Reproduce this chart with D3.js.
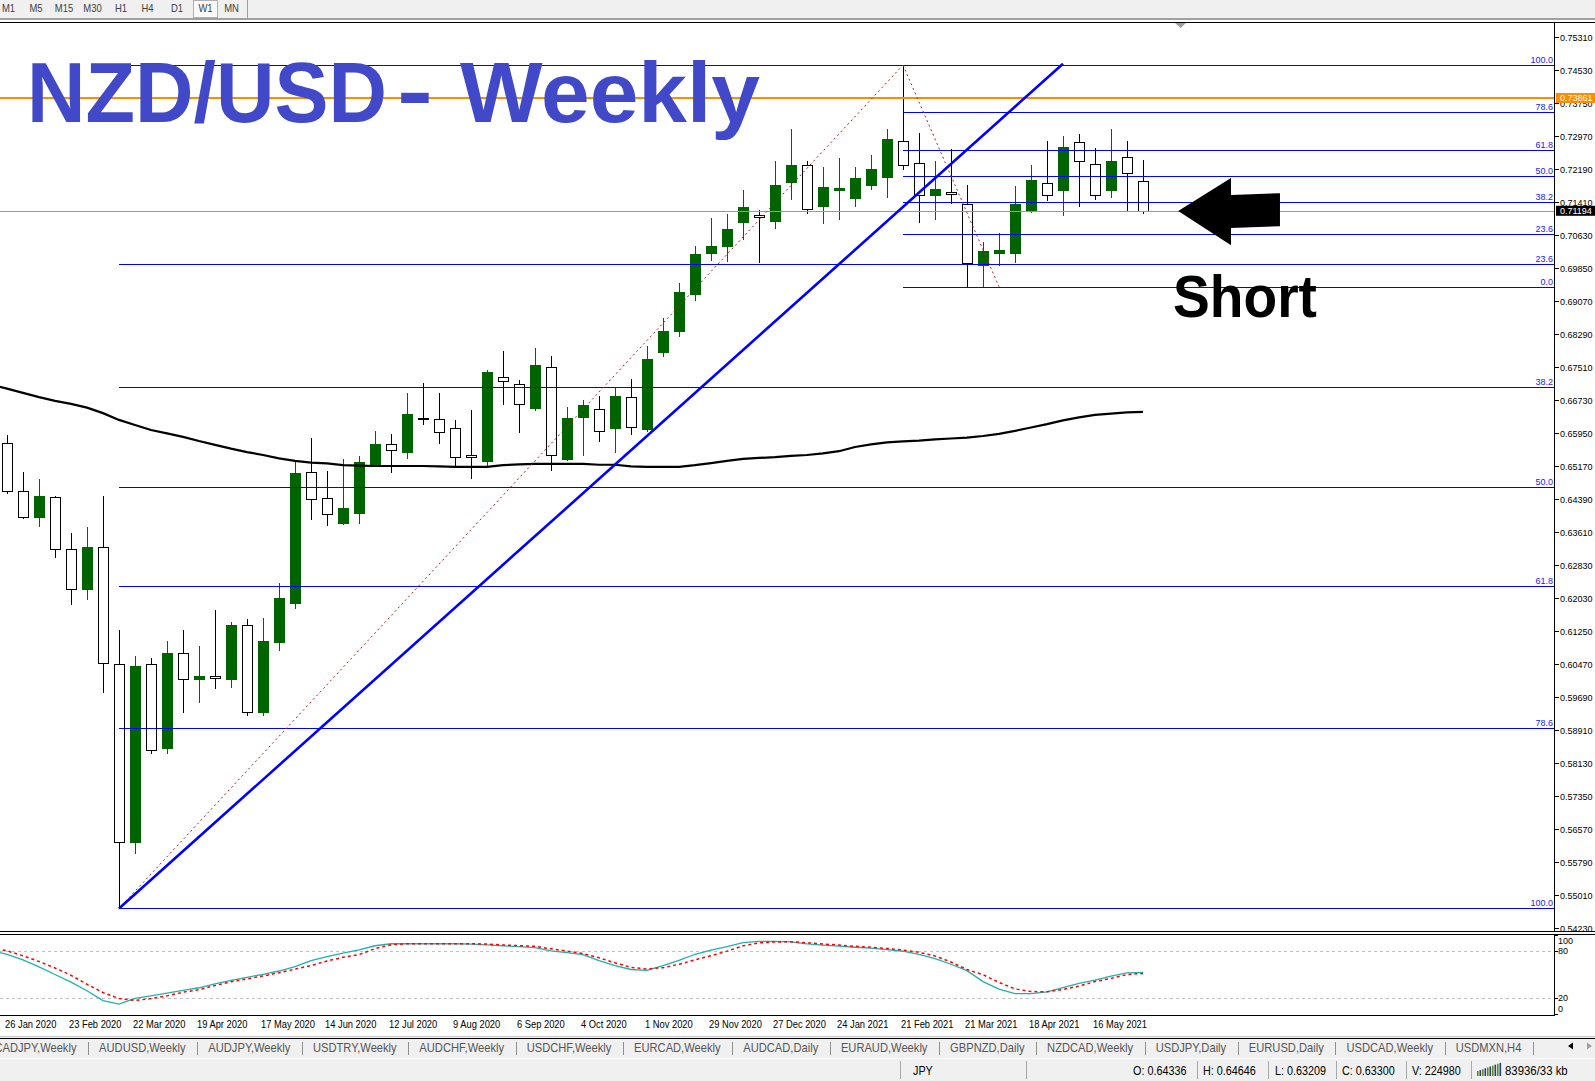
<!DOCTYPE html>
<html>
<head>
<meta charset="utf-8">
<script src="https://cdn.jsdelivr.net/npm/d3@7/dist/d3.min.js"></script>
<style>
html,body{margin:0;padding:0;background:#fff;overflow:hidden}
svg{display:block}
text{font-family:"Liberation Sans",Arial,sans-serif}
</style>
</head>
<body>
<svg id="chart" width="1595" height="1081"></svg>
<script>
// ================= DATA =================
// weekly bars, bar 0 = week of 26 Jan 2020 ... bar 71 = week of 6 Jun 2021
const open  = [0.6570,0.6457,0.6395,0.6442,0.6319,0.6226,0.6324,0.6047,0.5627,0.6047,0.5850,0.6073,0.6012,0.6020,0.6013,0.6139,0.5934,0.6101,0.6193,0.6502,0.6440,0.6382,0.6406,0.6518,0.6567,0.6550,0.6629,0.6626,0.6605,0.6541,0.6529,0.6726,0.6709,0.6652,0.6749,0.6533,0.6633,0.6650,0.6607,0.6678,0.6604,0.6786,0.6836,0.6923,0.7020,0.7037,0.7093,0.7109,0.7096,0.7188,0.7228,0.7131,0.7169,0.7150,0.7181,0.7200,0.7284,0.7232,0.7157,0.7163,0.7136,0.6991,0.7020,0.7020,0.7122,0.7184,0.7169,0.7281,0.7229,0.7169,0.7246,0.7189];
const high  = [0.6589,0.6503,0.6485,0.6445,0.6357,0.6372,0.6445,0.6128,0.6067,0.6063,0.6102,0.6128,0.6090,0.6176,0.6148,0.6154,0.6157,0.6240,0.6530,0.6582,0.6504,0.6533,0.6540,0.6599,0.6591,0.6689,0.6713,0.6689,0.6625,0.6648,0.6743,0.6788,0.6719,0.6795,0.6775,0.6655,0.6672,0.6682,0.6703,0.6721,0.6800,0.6866,0.6949,0.7037,0.7103,0.7112,0.7169,0.7121,0.7237,0.7313,0.7237,0.7222,0.7244,0.7222,0.7251,0.7313,0.7464,0.7303,0.7236,0.7265,0.7180,0.7045,0.7066,0.7178,0.7227,0.7284,0.7296,0.7301,0.7268,0.7313,0.7284,0.7240];
const low   = [0.6452,0.6392,0.6375,0.6300,0.6189,0.6202,0.5982,0.5470,0.5602,0.5837,0.5838,0.5934,0.5958,0.5990,0.5993,0.5927,0.5927,0.6081,0.6181,0.6391,0.6377,0.6379,0.6382,0.6516,0.6501,0.6536,0.6615,0.6571,0.6514,0.6487,0.6514,0.6663,0.6597,0.6648,0.6507,0.6530,0.6542,0.6574,0.6550,0.6592,0.6599,0.6776,0.6823,0.6909,0.7003,0.7001,0.7052,0.6999,0.7079,0.7148,0.7115,0.7091,0.7101,0.7131,0.7171,0.7153,0.7219,0.7094,0.7099,0.7138,0.6940,0.6942,0.6991,0.6999,0.7117,0.7146,0.7110,0.7131,0.7148,0.7153,0.7122,0.7113];
const close = [0.6457,0.6395,0.6445,0.6319,0.6225,0.6324,0.6050,0.5626,0.6043,0.5845,0.6074,0.6012,0.6020,0.6014,0.6140,0.5934,0.6102,0.6204,0.6500,0.6437,0.6402,0.6417,0.6526,0.6568,0.6553,0.6639,0.6626,0.6596,0.6538,0.6537,0.6738,0.6716,0.6662,0.6755,0.6541,0.6630,0.6660,0.6598,0.6682,0.6609,0.6769,0.6836,0.6927,0.7017,0.7036,0.7076,0.7128,0.7104,0.7180,0.7228,0.7123,0.7175,0.7173,0.7197,0.7218,0.7289,0.7227,0.7156,0.7170,0.7158,0.6995,0.7024,0.7026,0.7136,0.7192,0.7156,0.7270,0.7236,0.7156,0.7237,0.7208,0.71194];

// moving average, first value = bar -1 (week of 19 Jan 2020)
const ma = [0.6708,0.6699,0.6689,0.6679,0.6670,0.6663,0.6654,0.6641,0.6625,0.6613,0.6601,0.6593,0.6585,0.6575,0.6566,0.6557,0.6549,0.6542,0.6534,0.6528,0.6524,0.6522,0.6518,0.6517,0.6516,0.6516,0.6516,0.6516,0.6515,0.6514,0.6514,0.6514,0.6518,0.6520,0.6521,0.6521,0.6521,0.6521,0.6519,0.6519,0.6515,0.6514,0.6514,0.6514,0.6518,0.6523,0.6528,0.6533,0.6535,0.6537,0.6540,0.6542,0.6546,0.6551,0.6561,0.6567,0.6572,0.6574,0.6576,0.6579,0.6581,0.6583,0.6587,0.6592,0.6599,0.6607,0.6615,0.6624,0.6631,0.6637,0.6640,0.6643,0.6644];

// stochastic oscillator, first value = bar -1
const stochMain = [80.5,75.3,68.4,59.6,50,40.3,29.6,17.1,12.8,19.9,23.2,26.5,30,33.3,38.2,42.6,46.5,50.1,54.4,59.8,67.4,72.5,77,81,86.2,88.75,88.75,88.75,88.75,88.75,88.2,87.3,86.1,85,83.8,79.8,77.5,74.9,67.6,61.2,56.3,55.2,61.2,67.8,75.5,80.6,85.2,90.2,91.6,91.8,91,88.6,87,85.8,84.3,83.1,81.4,79.3,75.3,70,62.9,54.8,41,31.7,26,25.8,28.2,33.4,38.75,43,47.9,52.1,52.5];
const stochSignal = [84,79.8,73.6,66.3,58.2,49,37.7,27.3,19.7,17.2,19.7,23.1,27.7,30.9,36,41,44.4,48.1,52.2,56.8,61.3,67,71.6,75.1,82.6,87.5,88.75,88.75,88.75,88.75,88.75,88.4,87.1,86.3,85.5,82.4,79.5,76.4,71,64.7,59,56.9,58.6,62.9,68.4,73.6,79.4,86.1,89.8,91,91.2,89.9,88.5,87,85.5,84.3,82.7,80.8,77.9,73.4,65.7,56.2,49.8,40,31.9,28.5,28.2,31.2,35.4,41.1,45.1,49.9,51.3];

const priceTicks = [0.75310,0.74530,0.73750,0.72970,0.72190,0.71410,0.70630,0.69850,0.69070,0.68290,0.67510,0.66730,0.65950,0.65170,0.64390,0.63610,0.62830,0.62030,0.61250,0.60470,0.59690,0.58910,0.58130,0.57350,0.56570,0.55790,0.55010,0.54230];
const oscTicks = [100,80,20,0];
const oscLevels = [80,20];
const dateLabels = ["26 Jan 2020","23 Feb 2020","22 Mar 2020","19 Apr 2020","17 May 2020","14 Jun 2020","12 Jul 2020","9 Aug 2020","6 Sep 2020","4 Oct 2020","1 Nov 2020","29 Nov 2020","27 Dec 2020","24 Jan 2021","21 Feb 2021","21 Mar 2021","18 Apr 2021","16 May 2021"];
const dateLabelBars = [0,4,8,12,16,20,24,28,32,36,40,44,48,52,56,60,64,68];

// fib levels; the big fib's 0.0 label coincides with the small fib's 100.0 label
const fibBig   = {p1:{bar:7,  price:0.5470}, p2:{bar:56, price:0.7464}, levels:[0,23.6,38.2,50,61.8,78.6,100], hideLabel:[0]};
const fibSmall = {p1:{bar:56, price:0.7464}, p2:{bar:62, price:0.6940}, levels:[0,23.6,38.2,50,61.8,78.6,100], hideLabel:[]};
const trendLine = {p1:{bar:7, price:0.5470}, p2:{bar:66, price:0.7467}};
const orangeLevel = 0.73861;
const bidPrice = 0.71194;
const arrowShape = [[73.2,0.7119],[76.5,0.7197],[76.5,0.7157],[79.56,0.7161],[79.56,0.7083],[76.5,0.7079],[76.5,0.7038]];

const timeframes = ["M1","M5","M15","M30","H1","H4","D1","W1","MN"];
const tabs = ["CADJPY,Weekly","AUDUSD,Weekly","AUDJPY,Weekly","USDTRY,Weekly","AUDCHF,Weekly","USDCHF,Weekly","EURCAD,Weekly","AUDCAD,Daily","EURAUD,Weekly","GBPNZD,Daily","NZDCAD,Weekly","USDJPY,Daily","EURUSD,Daily","USDCAD,Weekly","USDMXN,H4"];
const statusTexts = ["O: 0.64336","H: 0.64646","L: 0.63209","C: 0.63300","V: 224980"];

// ================= LAYOUT =================
const svg = d3.select('#chart');
const AX = 1554;            // right axis line
const MT = 23, MB = 931;    // main window
const OT = 935, OB = 1015;  // oscillator window
const green = '#006400';

const x  = d3.scaleLinear().domain([-1, 71]).range([-9, 1143]);
const y  = d3.scaleLinear().domain([0.54230, 0.75310]).range([928.3, 36.7]);
const yo = d3.scaleLinear().domain([0, 100]).range([1014.2, 934.8]);
const crisp = v => Math.round(v) + 0.5;

const defs = svg.append('defs');
defs.append('clipPath').attr('id','clipMain').append('rect').attr('x',0).attr('y',MT).attr('width',AX).attr('height',MB-MT);
defs.append('clipPath').attr('id','clipOsc').append('rect').attr('x',0).attr('y',OT).attr('width',AX).attr('height',OB-OT);

svg.append('rect').attr('width',1595).attr('height',1081).attr('fill','#fff');

// ---------- toolbar ----------
svg.append('rect').attr('x',0).attr('y',0).attr('width',1595).attr('height',19).attr('fill','#F0F0F0');
const tfCenters = [8.5,36,64,92.5,121,147.5,177,205.5,231.5];
svg.append('rect').attr('x',193.5).attr('y',0.5).attr('width',24).attr('height',17).attr('fill','#FAFAFA').attr('stroke','#B0B0B0');
timeframes.forEach((t,i)=>{
  svg.append('text').attr('transform',`translate(${tfCenters[i]},11.5) scale(0.9,1)`)
    .attr('text-anchor','middle').attr('font-size',10.5).attr('fill','#404040').text(t);
});
svg.append('line').attr('x1',247.5).attr('x2',247.5).attr('y1',0).attr('y2',18).attr('stroke','#A0A0A0');
svg.append('line').attr('x1',0).attr('x2',1595).attr('y1',19).attr('y2',19).attr('stroke','#A0A0A0').attr('stroke-width',2);
svg.append('line').attr('x1',0).attr('x2',1595).attr('y1',22.5).attr('y2',22.5).attr('stroke','#000');

// ---------- main window ----------
const main = svg.append('g').attr('clip-path','url(#clipMain)');

// candles
const candles = open.map((o,i)=>({i, o, h:high[i], l:low[i], c:close[i], bull: close[i] >= o}));
const cg = main.append('g').selectAll('g').data(candles).join('g');
cg.append('line')
  .attr('x1',d=>x(d.i)+0.5).attr('x2',d=>x(d.i)+0.5)
  .attr('y1',d=>Math.round(y(d.h))).attr('y2',d=>Math.round(y(d.l))+1)
  .attr('stroke',d=>d.bull?green:'#000');
cg.filter(d=>d.bull).append('rect')
  .attr('x',d=>x(d.i)-5).attr('width',11)
  .attr('y',d=>Math.round(y(d.c)))
  .attr('height',d=>Math.max(1, Math.round(y(d.o))-Math.round(y(d.c)))+1)
  .attr('fill',green);
cg.filter(d=>!d.bull).append('rect')
  .attr('x',d=>x(d.i)-4.5).attr('width',10)
  .attr('y',d=>crisp(y(d.o)))
  .attr('height',d=>Math.max(1, Math.round(y(d.c))-Math.round(y(d.o))))
  .attr('fill','#fff').attr('stroke','#000');

// moving average
const maData = ma.map((v,k)=>({bar:k-1, v}));
main.append('path').datum(maData)
  .attr('d', d3.line().x(d=>x(d.bar)).y(d=>y(d.v)))
  .attr('fill','none').attr('stroke','#000').attr('stroke-width',2.2);

// horizontal lines
main.append('line').attr('x1',0).attr('x2',AX).attr('y1',y(orangeLevel)).attr('y2',y(orangeLevel))
  .attr('stroke','#FF8C00').attr('stroke-width',2);
main.append('line').attr('x1',0).attr('x2',AX).attr('y1',crisp(y(bidPrice))).attr('y2',crisp(y(bidPrice)))
  .attr('stroke','#6DB86D');

// fibonacci
const labelsG = svg.append('g');
function drawFib(f){
  const pr = l => f.p2.price + (f.p1.price - f.p2.price) * l / 100;
  f.levels.forEach(l=>{
    const yy = crisp(y(pr(l)));
    main.append('line').attr('x1',x(f.p1.bar)).attr('x2',AX).attr('y1',yy).attr('y2',yy)
      .attr('stroke','#0000FF').attr('stroke-width',1.2);
    if (!f.hideLabel.includes(l))
      labelsG.append('text').attr('x',AX-1).attr('y',yy-2.5).attr('text-anchor','end')
        .attr('font-size',9).attr('fill','#2020FF').text(l.toFixed(1));
  });
  main.append('path').datum([f.p1,f.p2])
    .attr('d', d3.line().x(d=>x(d.bar)).y(d=>y(d.price)))
    .attr('fill','none').attr('stroke','#B22222').attr('stroke-width',1).attr('stroke-dasharray','2,3');
}
drawFib(fibBig);
drawFib(fibSmall);

// trend line
main.append('path').datum([trendLine.p1, trendLine.p2])
  .attr('d', d3.line().x(d=>x(d.bar)).y(d=>y(d.price)))
  .attr('fill','none').attr('stroke','#0000FF').attr('stroke-width',2.6);

// arrow
main.append('path').datum(arrowShape)
  .attr('d', d3.line().x(d=>x(d[0])).y(d=>y(d[1])).curve(d3.curveLinearClosed))
  .attr('fill','#000');

// chart shift marker
svg.append('path').attr('d','M1175,23 L1186,23 L1180.5,28 Z').attr('fill','#A0A0A0');

// title & label: each part scaled horizontally to its measured width
function placeScaled(txt, x0, baseline, width, size, color){
  const t = svg.append('text').attr('font-family','"Open Sans", "Liberation Sans", sans-serif')
    .attr('font-weight',700).attr('font-size',size).attr('fill',color).text(txt);
  const w = t.node().getComputedTextLength();
  t.attr('transform',`translate(${x0},${baseline}) scale(${width/w},1)`);
  return t;
}
placeScaled('NZD/USD', 27, 122, 360, 85, '#4149C9');
placeScaled('-', 397, 120, 36, 85, '#4149C9');
placeScaled('Weekly', 460, 122, 300, 85, '#4149C9');
placeScaled('Short', 1173, 317, 144, 60, '#000');

// ---------- price axis ----------
svg.append('line').attr('x1',AX+0.5).attr('x2',AX+0.5).attr('y1',MT).attr('y2',OB).attr('stroke','#000');
const pa = svg.append('g');
priceTicks.forEach(p=>{
  const yy = crisp(y(p));
  pa.append('line').attr('x1',AX+1).attr('x2',AX+5).attr('y1',yy).attr('y2',yy).attr('stroke','#000');
  pa.append('text').attr('x',1560).attr('y',yy).attr('dy','0.35em').attr('font-size',9).attr('fill','#000').text(p.toFixed(5));
});
function priceTag(p, bg){
  const yy = y(p);
  pa.append('rect').attr('x',AX+2).attr('y',yy-5).attr('width',1595-AX-2).attr('height',10).attr('fill',bg);
  pa.append('text').attr('x',1560).attr('y',yy).attr('dy','0.35em').attr('font-size',9).attr('fill','#fff').text(p.toFixed(5));
}
priceTag(orangeLevel,'#FF8C00');
priceTag(bidPrice,'#000');

// window borders
svg.append('line').attr('x1',0).attr('x2',1595).attr('y1',MB+0.5).attr('y2',MB+0.5).attr('stroke','#000');
svg.append('line').attr('x1',0).attr('x2',1595).attr('y1',OT-0.5).attr('y2',OT-0.5).attr('stroke','#000');
svg.append('rect').attr('x',0).attr('y',MB+1).attr('width',1595).attr('height',OT-MB-2).attr('fill','#fff');
svg.append('line').attr('x1',0).attr('x2',AX+1).attr('y1',OB+0.5).attr('y2',OB+0.5).attr('stroke','#000');

// ---------- oscillator ----------
const osc = svg.append('g').attr('clip-path','url(#clipOsc)');
oscLevels.forEach(l=>{
  osc.append('line').attr('x1',0).attr('x2',AX).attr('y1',crisp(yo(l))).attr('y2',crisp(yo(l)))
    .attr('stroke','#C0C0C0').attr('stroke-dasharray','3,3');
});
const oLine = d3.line().x((d,k)=>x(k-1)).y(d=>yo(d));
osc.append('path').datum(stochMain).attr('d',oLine).attr('fill','none').attr('stroke','#20B2AA').attr('stroke-width',1.3);
osc.append('path').datum(stochSignal).attr('d',oLine).attr('fill','none').attr('stroke','#FF0000').attr('stroke-width',1.5).attr('stroke-dasharray','3,3');
oscTicks.forEach(t=>{
  const yy = Math.min(Math.max(yo(t), OT+6), OB-6.5);
  svg.append('line').attr('x1',AX+1).attr('x2',AX+4).attr('y1',crisp(yo(t))).attr('y2',crisp(yo(t))).attr('stroke','#000');
  svg.append('text').attr('x',1558).attr('y',yy).attr('dy','0.35em').attr('font-size',9).attr('fill','#000').text(t);
});

// ---------- date axis ----------
dateLabels.forEach((lab,k)=>{
  const xx = x(dateLabelBars[k]);
  svg.append('text').attr('transform',`translate(${xx-2},1028) scale(0.85,1)`)
    .attr('font-size',11).attr('fill','#000').text(lab);
});

// ---------- tab bar ----------
svg.append('rect').attr('x',0).attr('y',1037).attr('width',1595).attr('height',44).attr('fill','#F0F0F0');
svg.append('line').attr('x1',0).attr('x2',1595).attr('y1',1036.5).attr('y2',1036.5).attr('stroke','#C8C8C8');
svg.append('line').attr('x1',0).attr('x2',1595).attr('y1',1038.5).attr('y2',1038.5).attr('stroke','#000');
svg.append('line').attr('x1',0).attr('x2',1595).attr('y1',1058.5).attr('y2',1058.5).attr('stroke','#FFFFFF');
const TS = 0.93;
let cursor = 76.5;
tabs.forEach((t,k)=>{
  const tx = svg.append('text').attr('font-size',12).attr('fill','#555').text(t);
  const w = tx.node().getComputedTextLength()*TS;
  if (k===0){
    tx.attr('text-anchor','end').attr('transform',`translate(${cursor},1052) scale(${TS},1)`);
  } else {
    tx.attr('transform',`translate(${cursor},1052) scale(${TS},1)`);
    cursor += w;
  }
  svg.append('line').attr('x1',crisp(cursor+11.5)).attr('x2',crisp(cursor+11.5)).attr('y1',1042).attr('y2',1055).attr('stroke','#909090');
  cursor += 22.6;
});
svg.append('path').attr('d','M1568,1046 L1573,1042.5 L1573,1049.5 Z').attr('fill','#000');
svg.append('path').attr('d','M1592,1046 L1587,1042.5 L1587,1049.5 Z').attr('fill','#A0A0A0');

// ---------- status bar ----------
[900,1026,1197,1268,1336,1406,1471].forEach(sx=>{
  svg.append('line').attr('x1',sx+0.5).attr('x2',sx+0.5).attr('y1',1061).attr('y2',1079).attr('stroke','#A8A8A8');
});
svg.append('text').attr('transform','translate(913,1074.5) scale(0.9,1)').attr('font-size',12).attr('fill','#000').text('JPY');
[1133,1203,1275,1342,1412].forEach((sx,k)=>{
  svg.append('text').attr('transform',`translate(${sx},1074.5) scale(0.9,1)`).attr('font-size',12).attr('fill','#000').text(statusTexts[k]);
});
for (let b=0;b<10;b++){
  svg.append('rect').attr('x',1477+b*2.5).attr('y',1076-(5+b*0.9)).attr('width',1.6).attr('height',5+b*0.9)
    .attr('fill', b%2 ? '#1F3F8F' : '#6A8F00');
}
svg.append('text').attr('transform','translate(1505,1074.5) scale(0.95,1)').attr('font-size',12).attr('fill','#000').text('83936/33 kb');
</script>
</body>
</html>
